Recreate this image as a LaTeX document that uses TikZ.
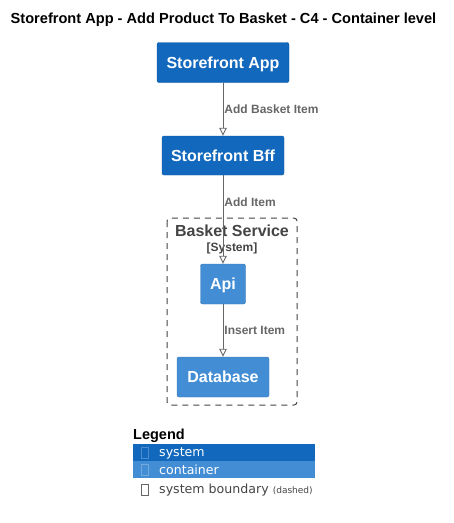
\documentclass[tikz,border=0pt]{standalone}
\usepackage{fontspec}
\setmainfont{Liberation Sans}
\newfontfamily\legendfont{DejaVu Sans}
\usetikzlibrary{arrows.meta}
\definecolor{sysblue}{HTML}{1168BD}
\definecolor{contblue}{HTML}{438DD5}
\definecolor{relgray}{HTML}{666666}
\definecolor{bndgray}{HTML}{444444}
\tikzset{
  sysbox/.style={rectangle, rounded corners=2pt, fill=sysblue, draw=sysblue!85!black, line width=0.4pt, text=white, font=\bfseries\fontsize{16}{18}\selectfont, inner sep=0pt, text height=11pt, text depth=0pt},
  contbox/.style={sysbox, fill=contblue, draw=contblue!85!black},
  rel/.style={draw=relgray, line width=0.9pt, -{Triangle[open, width=7.5pt, length=8pt]}},
  rellabel/.style={text=relgray, font=\bfseries\fontsize{12}{14}\selectfont, inner sep=0pt, anchor=west, xshift=1pt},
  legendrow/.style={text=white, font=\legendfont\fontsize{12.6}{14}\selectfont, anchor=west, inner sep=0pt}
}
\begin{document}
\begin{tikzpicture}[x=1pt, y=-1pt]
  \useasboundingbox (0,0) rectangle (454,523);
  \node (title) [font=\bfseries\fontsize{14.6}{17}\selectfont] at (223.5,20) {Storefront App - Add Product To Basket - C4 - Container level};

  % boundary
  \draw [bndgray, line width=1pt, dash pattern=on 6pt off 5pt, rounded corners=3pt] (167,218) rectangle (297,405);
  \node (bndtitle) [text=bndgray, font=\bfseries\fontsize{16}{18}\selectfont] at (232,231) {Basket Service};
  \node (bndtype) [text=bndgray, font=\bfseries\fontsize{12}{14}\selectfont] at (232,248) {[System]};

  \node (app) [sysbox, minimum width=132pt, minimum height=40pt] at (223,62.5) {Storefront App};
  \node (bff) [sysbox, minimum width=122pt, minimum height=39pt] at (223,155.5) {Storefront Bff};
  \node (api) [contbox, minimum width=45pt, minimum height=40pt] at (223,284) {Api};
  \node (db) [contbox, minimum width=92pt, minimum height=40pt] at (223,377) {Database};

  \draw [rel] (app) -- node[rellabel] {Add Basket Item} (bff);
  \draw [rel] (bff) -- node[rellabel, pos=0.31] {Add Item} (api);
  \draw [rel] (api) -- node[rellabel] {Insert Item} (db);

  % legend
  \node (legend) [anchor=west, inner sep=0pt, font=\bfseries\fontsize{14.5}{16}\selectfont] at (133,436) {Legend};
  \fill [sysblue] (133,444) rectangle (315,461);
  \fill [contblue] (133,461) rectangle (315,478);
  \draw [white, opacity=0.25, line width=0.5pt] (141.5,447) rectangle (148,458);
  \draw [white, opacity=0.25, line width=0.5pt] (141.5,464) rectangle (148,475);
  \draw [relgray, line width=0.5pt] (141.5,484.5) rectangle (148,495.5);
  \node (lsys) [legendrow] at (159,453) {system};
  \node (lcont) [legendrow] at (159,470) {container};
  \node (lbnd) [legendrow, text=bndgray] at (159,490) {system boundary {\fontsize{9}{10}\selectfont (dashed)}};
\end{tikzpicture}
\end{document}
